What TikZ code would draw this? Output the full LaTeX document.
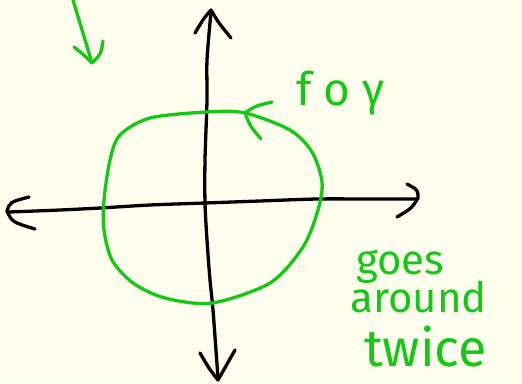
\documentclass[tikz,border=0pt]{standalone}
\usepackage{fontspec}
\setmainfont{Fira Sans}
\definecolor{pen}{RGB}{22,200,22}
\definecolor{paper}{RGB}{255,253,238}
\begin{document}
\begin{tikzpicture}[x=1pt,y=-1pt,
  ink/.style={line width=3.3pt, line cap=round, line join=round},
  loop/.style={ink, pen},
  note/.style={text=pen, inner sep=0pt, anchor=base west}]
\fill[paper] (0,0) rectangle (522,383);
\useasboundingbox (0,0) rectangle (522,383);
% axes
\draw [ink] plot[smooth] coordinates {(9,212) (60,210) (100,208) (150,205) (205,203) (260,201) (317,199) (370,199) (417,199)};
\draw [ink] (29,197) .. controls (10,202) .. (7,211) .. controls (12,222) .. (35,229);
\draw [ink] (407,184) .. controls (418,190) .. (418,198) .. controls (412,208) .. (397,217);
\draw [ink] plot[smooth] coordinates {(211,12) (207,60) (207,100) (205,160) (205,203) (207,240) (210,280) (213,310) (218,378)};
\draw [ink] (195,33) .. controls (204,18) .. (211,10) .. controls (218,22) .. (231,38);
\draw [ink] (200,353) .. controls (210,370) .. (218,380) .. controls (226,366) .. (235,350);
% the loop
\draw [loop] plot[smooth cycle] coordinates {(207,112) (245,113) (290,130) (312,152) (322,182) (318,210) (303,247) (270,283) (212,303) (165,298) (133,283) (112,260) (104,230) (104,200) (110,160) (120,135) (150,118)};
\draw [loop] (272,102) .. controls (255,106) .. (245,113) .. controls (250,126) .. (261,139);
% pointer at top left
\draw [loop] (73,0) -- (92,63);
\draw [loop] (74,47) .. controls (84,55) .. (92,63) .. controls (101,54) .. (103,41);
% labels
\node [note, font=\fontsize{46}{46}\selectfont] (fog) at (296,105) {f o γ};
\node [note, font=\fontsize{42}{42}\selectfont] (goes) at (356,274) {goes};
\node [note, font=\fontsize{42}{42}\selectfont] (around) at (350,312) {around};
\node [note, font=\fontsize{52}{52}\selectfont] (twice) at (364,366) {twice};
\end{tikzpicture}
\end{document}
